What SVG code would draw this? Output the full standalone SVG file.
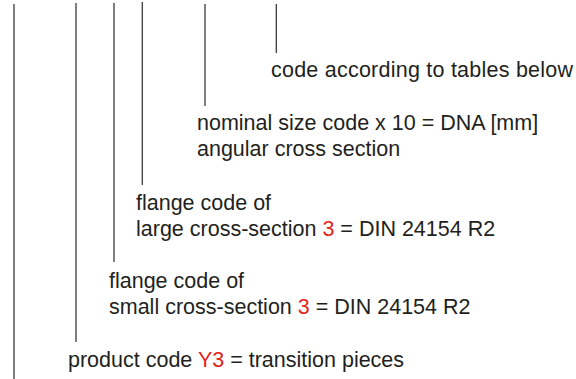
<svg xmlns="http://www.w3.org/2000/svg" width="576" height="379" viewBox="0 0 576 379">
<style>
.t{font-family:"Liberation Sans",Arial,Helvetica,sans-serif;font-size:21.5px;fill:#231f20}
.r{fill:#e2231a}
.ln{stroke:#3a3a3a;stroke-width:1.3;fill:none}
</style>
<rect width="576" height="379" fill="#fff"/>
<g id="connectors">
<line class="ln" x1="14" y1="4" x2="14" y2="379"/>
<line class="ln" x1="76" y1="3" x2="76" y2="342"/>
<line class="ln" x1="114" y1="3" x2="114" y2="262"/>
<line class="ln" x1="142.3" y1="2" x2="142.3" y2="185"/>
<line class="ln" x1="205" y1="4" x2="205" y2="106"/>
<line class="ln" x1="276.3" y1="4" x2="276.3" y2="53"/>
</g>
<g id="code-tables">
<text class="t" x="271" y="77" textLength="302" lengthAdjust="spacing">code according to tables below</text>
</g>
<g id="nominal-size">
<text class="t" x="197" y="130">nominal size code x 10 = DNA [mm]</text>
<text class="t" x="197" y="156">angular cross section</text>
</g>
<g id="flange-large">
<text class="t" x="136" y="210">flange code of</text>
<text class="t" x="136" y="236">large cross-section <tspan class="r">3</tspan> = DIN 24154 R2</text>
</g>
<g id="flange-small">
<text class="t" x="109" y="288">flange code of</text>
<text class="t" x="109" y="314">small cross-section <tspan class="r">3</tspan> = DIN 24154 R2</text>
</g>
<g id="product-code">
<text class="t" x="68" y="367">product code <tspan class="r">Y3</tspan> = transition pieces</text>
</g>
</svg>
